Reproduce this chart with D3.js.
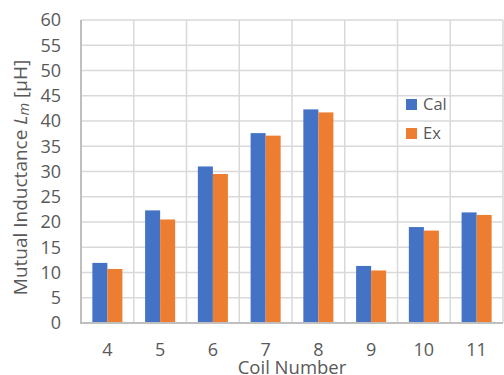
<!DOCTYPE html>
<html>
<head>
<meta charset="utf-8">
<script src="https://cdn.jsdelivr.net/npm/d3@7"></script>
<style>
  html, body { margin: 0; padding: 0; background: #fff; }
  svg { display: block; }
  text { font-family: "Open Sans", "Noto Sans", sans-serif; fill: #595959; }
</style>
</head>
<body>
<svg id="chart" width="504" height="375"></svg>
<script>
// Coil numbers along the x axis
const coils = ["4", "5", "6", "7", "8", "9", "10", "11"];
// Mutual inductance per coil [µH]
const calValues = [11.9, 22.3, 31.0, 37.6, 42.3, 11.3, 19.0, 21.9];
const exValues  = [10.7, 20.5, 29.5, 37.1, 41.7, 10.4, 18.3, 21.4];
const seriesNames = ["Cal", "Ex"];
const seriesColors = ["#4472C4", "#ED7D31"];
const yTicks = [0, 5, 10, 15, 20, 25, 30, 35, 40, 45, 50, 55, 60];

const svg = d3.select("#chart");
const margin = { left: 81, right: 1, top: 20, bottom: 52 };
const W = 504, H = 375;
const plotW = W - margin.left - margin.right;
const plotH = H - margin.top - margin.bottom;

const x = d3.scaleBand().domain(coils).range([margin.left, margin.left + plotW]).paddingInner(0).paddingOuter(0);
const inner = d3.scaleBand().domain(seriesNames).range([0, x.bandwidth()]).paddingInner(0).paddingOuter(0.756);
const y = d3.scaleLinear().domain([0, 60]).range([margin.top + plotH, margin.top]);

// Horizontal gridlines
svg.append("g")
  .selectAll("line")
  .data(yTicks.filter(d => d > 0))
  .join("line")
  .attr("x1", margin.left).attr("x2", margin.left + plotW)
  .attr("y1", d => y(d)).attr("y2", d => y(d))
  .attr("stroke", "#d9d9d9").attr("stroke-width", 1.5);

// Vertical gridlines at category boundaries
svg.append("g")
  .selectAll("line")
  .data(coils)
  .join("line")
  .attr("x1", d => x(d) + x.bandwidth())
  .attr("x2", d => x(d) + x.bandwidth())
  .attr("y1", y(0)).attr("y2", y(60))
  .attr("stroke", "#d9d9d9").attr("stroke-width", 1.5);

// Bars
const rows = coils.map((c, i) => ({ coil: c, vals: [calValues[i], exValues[i]] }));
const groups = svg.append("g")
  .selectAll("g")
  .data(rows)
  .join("g")
  .attr("transform", d => `translate(${x(d.coil)},0)`);
groups.selectAll("rect")
  .data(d => d.vals.map((v, j) => ({ name: seriesNames[j], v, color: seriesColors[j] })))
  .join("rect")
  .attr("x", d => inner(d.name))
  .attr("width", inner.bandwidth())
  .attr("y", d => y(d.v))
  .attr("height", d => y(0) - y(d.v))
  .attr("fill", d => d.color);

// Axis lines
svg.append("line")
  .attr("x1", margin.left).attr("x2", margin.left)
  .attr("y1", y(60)).attr("y2", y(0))
  .attr("stroke", "#bfbfbf").attr("stroke-width", 2);
svg.append("line")
  .attr("x1", margin.left - 1).attr("x2", margin.left + plotW)
  .attr("y1", y(0)).attr("y2", y(0))
  .attr("stroke", "#bfbfbf").attr("stroke-width", 2);

// Y tick labels
svg.append("g")
  .selectAll("text")
  .data(yTicks)
  .join("text")
  .attr("x", 61)
  .attr("y", d => y(d))
  .attr("dy", "0.36em")
  .attr("text-anchor", "end")
  .attr("font-size", 18)
  .text(d => d);

// X tick labels
svg.append("g")
  .selectAll("text")
  .data(coils)
  .join("text")
  .attr("x", d => x(d) + x.bandwidth() / 2)
  .attr("y", 355.5)
  .attr("text-anchor", "middle")
  .attr("font-size", 18)
  .text(d => d);

// X axis title
svg.append("text")
  .attr("x", margin.left + plotW / 2)
  .attr("y", 373.5)
  .attr("text-anchor", "middle")
  .attr("font-size", 18.5)
  .text("Coil Number");

// Y axis title, laid out from its start so the mixed tspans stay centred
const yTitleCenter = 177.5;
const yTitle = svg.append("text")
  .attr("font-size", 19);
yTitle.append("tspan").text("Mutual Inductance ");
yTitle.append("tspan").attr("font-style", "italic").text("L");
yTitle.append("tspan").attr("font-style", "italic").attr("font-size", 14.5).attr("dy", 2).text("m");
yTitle.append("tspan").attr("dy", -2).text(" [µH]");
const titleLen = yTitle.node().getComputedTextLength();
yTitle.attr("transform", `translate(27,${yTitleCenter + titleLen / 2}) rotate(-90)`);

// Legend
const legend = svg.append("g")
  .selectAll("g")
  .data(seriesNames)
  .join("g")
  .attr("transform", (d, i) => `translate(406,${99 + i * 29})`);
legend.append("rect")
  .attr("width", 11).attr("height", 11)
  .attr("fill", (d, i) => seriesColors[i]);
legend.append("text")
  .attr("x", 17).attr("y", 5.5).attr("dy", "0.36em")
  .attr("font-size", 16.5)
  .text(d => d);
</script>
</body>
</html>
